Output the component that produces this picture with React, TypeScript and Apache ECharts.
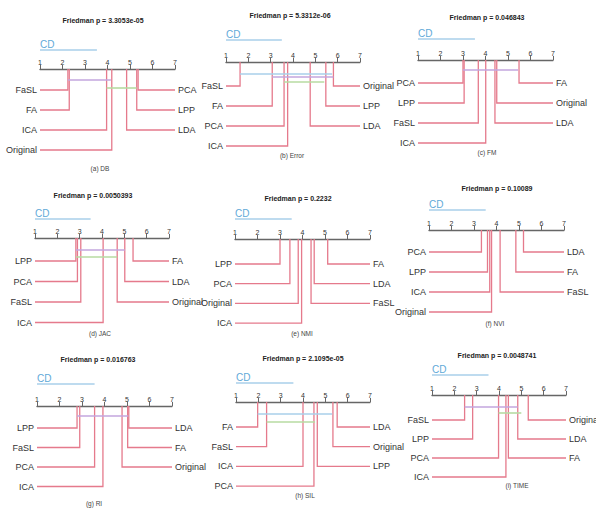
import React, { useEffect, useRef } from 'react';
import * as echarts from 'echarts';

// ---------- data ----------
const panelLetters = ['a', 'b', 'c', 'd', 'e', 'f', 'g', 'h', 'i'];
const panelMetrics = ['DB', 'Error', 'FM', 'JAC', 'NMI', 'NVI', 'RI', 'SIL', 'TIME'];
const friedmanP = ['3.3053e-05', '5.3312e-06', '0.046843', '0.0050393', '0.2232', '0.10089', '0.016763', '2.1095e-05', '0.0048741'];
const cdValues = [2.53, 2.5, 2.53, 2.49, 2.52, 2.52, 2.56, 2.57, 2.53];
const rankTicks = [1, 2, 3, 4, 5, 6, 7];

const leftMethods = [
  ['FaSL', 'FA', 'ICA', 'Original'],
  ['FaSL', 'FA', 'PCA', 'ICA'],
  ['PCA', 'LPP', 'FaSL', 'ICA'],
  ['LPP', 'PCA', 'FaSL', 'ICA'],
  ['LPP', 'PCA', 'Original', 'ICA'],
  ['PCA', 'LPP', 'ICA', 'Original'],
  ['LPP', 'FaSL', 'PCA', 'ICA'],
  ['FA', 'FaSL', 'ICA', 'PCA'],
  ['FaSL', 'LPP', 'PCA', 'ICA'],
];
const leftRanks = [
  [2.24, 2.3, 3.96, 4.19],
  [1.63, 3.07, 3.6, 3.76],
  [3.0, 3.05, 3.68, 4.01],
  [2.83, 2.9, 3.05, 4.05],
  [3.0, 3.44, 3.81, 3.96],
  [3.33, 3.6, 3.7, 3.78],
  [2.78, 2.9, 3.56, 3.93],
  [1.97, 2.37, 4.0, 4.49],
  [2.46, 2.82, 3.98, 4.31],
];
const rightMethods = [
  ['PCA', 'LPP', 'LDA'],
  ['Original', 'LPP', 'LDA'],
  ['FA', 'Original', 'LDA'],
  ['FA', 'LDA', 'Original'],
  ['FA', 'LDA', 'FaSL'],
  ['LDA', 'FA', 'FaSL'],
  ['LDA', 'FA', 'Original'],
  ['LDA', 'Original', 'LPP'],
  ['Original', 'LDA', 'FA'],
];
const rightRanks = [
  [5.36, 5.3, 4.85],
  [5.81, 5.47, 4.77],
  [5.49, 4.5, 4.42],
  [5.39, 5.02, 4.68],
  [5.12, 4.52, 4.38],
  [5.2, 4.86, 4.16],
  [5.08, 5.03, 4.78],
  [5.53, 5.34, 4.64],
  [5.31, 4.84, 4.42],
];
// non-significant groups (start rank, end rank)
const cliqueSpans = [
  [[2.24, 4.15], [3.96, 5.3]],
  [[1.63, 5.75], [3.07, 5.81], [3.6, 5.4]],
  [[3.0, 5.45]],
  [[2.83, 5.02], [2.83, 4.68]],
  [],
  [],
  [[2.78, 5.06]],
  [[1.97, 5.31], [2.37, 4.54]],
  [[2.46, 4.84], [3.98, 5.0]],
];

// ---------- layout / style ----------
const PINK = '#e57a8c';
const PURPLE = '#c3a6de';
const GREEN = '#b7dba2';
const BLUE = '#a9cfea';
const CD_COLOR = '#5fa9d8';
const FONT = 'Liberation Sans, Arial, sans-serif';

const layout = [
  { r1: 40, r7: 175, axisY: 69, gap: 21, step: 20, tx: 103, ty: 20, cx: 100, cy: 168, cd: -19, cl: [11, 19], cc: [PURPLE, GREEN] },
  { r1: 226, r7: 360, axisY: 62, gap: 24, step: 20, tx: 290, ty: 15, cx: 292, cy: 155, cd: -22, cl: [12, 15, 20], cc: [BLUE, PURPLE, GREEN] },
  { r1: 418, r7: 553, axisY: 60, gap: 23, step: 20, tx: 487, ty: 17, cx: 487, cy: 152, cd: -21, cl: [10], cc: [PURPLE] },
  { r1: 35, r7: 169, axisY: 238, gap: 23, step: 20.5, tx: 93, ty: 195, cx: 100, cy: 333, cd: -19, cl: [12, 19], cc: [PURPLE, GREEN] },
  { r1: 235, r7: 370, axisY: 239, gap: 25, step: 19.7, tx: 298, ty: 198, cx: 302, cy: 333, cd: -20, cl: [], cc: [] },
  { r1: 429, r7: 564, axisY: 230, gap: 22, step: 20, tx: 497, ty: 188, cx: 495, cy: 323, cd: -20, cl: [], cc: [] },
  { r1: 37, r7: 172, axisY: 406, gap: 22, step: 19.5, tx: 98, ty: 359, cx: 94, cy: 503, cd: -22, cl: [10], cc: [PURPLE] },
  { r1: 236, r7: 370, axisY: 402, gap: 25, step: 19.7, tx: 303, ty: 358, cx: 305, cy: 495, cd: -19, cl: [12, 20], cc: [BLUE, GREEN] },
  { r1: 432, r7: 566, axisY: 395, gap: 25, step: 19, tx: 497, ty: 355, cx: 517, cy: 485, cd: -20, cl: [12, 18], cc: [PURPLE, GREEN] },
];

function buildOption() {
  const grid: any[] = [];
  const xAxis: any[] = [];
  const yAxis: any[] = [];
  const series: any[] = [];
  const graphic: any[] = [];

  layout.forEach((L, i) => {
    grid.push({ left: L.r1, top: L.axisY, width: L.r7 - L.r1, height: 100, containLabel: false });
    xAxis.push({
      gridIndex: i,
      type: 'value',
      position: 'top',
      min: rankTicks[0],
      max: rankTicks[rankTicks.length - 1],
      interval: 1,
      axisLine: { show: true, lineStyle: { color: '#666', width: 1.4 } },
      axisTick: { show: true, length: 4, lineStyle: { color: '#666', width: 1 } },
      axisLabel: { show: true, fontSize: 7, color: '#333', margin: 3, fontFamily: FONT },
      splitLine: { show: false },
    });
    yAxis.push({ gridIndex: i, type: 'value', min: 0, max: 100, inverse: true, show: false });

    const items: any[] = [];
    leftMethods[i].forEach((m, k) => {
      items.push({ name: m, value: [leftRanks[i][k], L.gap + k * L.step, 0] });
    });
    rightMethods[i].forEach((m, k) => {
      items.push({ name: m, value: [rightRanks[i][k], L.gap + k * L.step, 1] });
    });

    series.push({
      type: 'custom',
      xAxisIndex: i,
      yAxisIndex: i,
      clip: false,
      silent: true,
      data: items,
      renderItem: (params: any, api: any) => {
        const it = items[params.dataIndex];
        const rank = api.value(0);
        const y = api.value(1);
        const side = api.value(2);
        const p0 = api.coord([rank, 0]);
        const p1 = api.coord([rank, y]);
        const p2 = api.coord([side ? 7 : 1, y]);
        return {
          type: 'group',
          children: [
            {
              type: 'polyline',
              shape: { points: [p0, p1, p2] },
              style: { stroke: PINK, lineWidth: 1.3, fill: null },
            },
            {
              type: 'text',
              x: p2[0] + (side ? 3 : -3),
              y: p2[1],
              style: {
                text: it.name,
                fill: '#333',
                font: `9px ${FONT}`,
                textAlign: side ? 'left' : 'right',
                align: side ? 'left' : 'right',
                textVerticalAlign: 'middle',
                verticalAlign: 'middle',
              },
            },
          ],
        };
      },
    });

    // CD bar and clique bars
    const bars: any[] = [{ value: [rankTicks[0], rankTicks[0] + cdValues[i], L.cd, -1] }];
    cliqueSpans[i].forEach((s, k) => {
      bars.push({ value: [s[0], s[1], L.cl[k], k] });
    });
    series.push({
      type: 'custom',
      xAxisIndex: i,
      yAxisIndex: i,
      clip: false,
      silent: true,
      encode: { x: [0, 1], y: 2 },
      data: bars,
      renderItem: (params: any, api: any) => {
        const a = api.coord([api.value(0), api.value(2)]);
        const b = api.coord([api.value(1), api.value(2)]);
        const ci = api.value(3);
        const isCD = ci < 0;
        const children: any[] = [
          {
            type: 'line',
            shape: { x1: a[0], y1: a[1], x2: b[0], y2: b[1] },
            style: { stroke: isCD ? BLUE : L.cc[ci], lineWidth: 1.6 },
          },
        ];
        if (isCD) {
          children.push({
            type: 'text',
            x: a[0],
            y: a[1] - 1,
            style: {
              text: 'CD',
              fill: CD_COLOR,
              font: `10px ${FONT}`,
              textAlign: 'left',
              align: 'left',
              textVerticalAlign: 'bottom',
              verticalAlign: 'bottom',
            },
          });
        }
        return { type: 'group', children };
      },
    });

    graphic.push({
      type: 'text',
      x: L.tx,
      y: L.ty,
      style: {
        text: `Friedman p = ${friedmanP[i]}`,
        fill: '#222',
        font: `bold 7px ${FONT}`,
        textAlign: 'center',
        textVerticalAlign: 'middle',
      },
    });
    graphic.push({
      type: 'text',
      x: L.cx,
      y: L.cy,
      style: {
        text: `(${panelLetters[i]}) ${panelMetrics[i]}`,
        fill: '#444',
        font: `6.5px ${FONT}`,
        textAlign: 'center',
        textVerticalAlign: 'middle',
      },
    });
  });

  return {
    animation: false,
    backgroundColor: '#ffffff',
    grid,
    xAxis,
    yAxis,
    series,
    graphic,
  };
}

export default function App() {
  const ref = useRef<HTMLDivElement>(null);
  useEffect(() => {
    if (!ref.current) return;
    const chart = echarts.init(ref.current, undefined, { renderer: 'svg' });
    chart.setOption(buildOption() as any);
    return () => chart.dispose();
  }, []);
  return (
    <div
      ref={ref}
      style={{ position: 'absolute', left: 0, top: 0, width: 596, height: 511, background: '#fff' }}
    />
  );
}
